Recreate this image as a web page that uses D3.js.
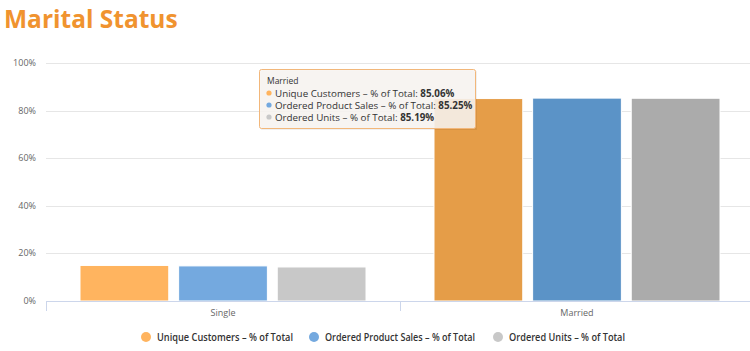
<!DOCTYPE html>
<html>
<head>
<meta charset="utf-8">
<script src="https://cdn.jsdelivr.net/npm/d3@7"></script>
<style>
  body { margin: 0; background: #fff; }
  #chart { width: 750px; height: 351px; }
  text { font-family: "Open Sans", "DejaVu Sans", sans-serif; }
</style>
</head>
<body>
<div id="chart"></div>
<script>
// data
const categories = ["Single", "Married"];
const seriesNames = ["Unique Customers - % of Total", "Ordered Product Sales - % of Total", "Ordered Units - % of Total"];
const uniqueCustomers = [14.94, 85.06];
const orderedSales = [14.75, 85.25];
const orderedUnits = [14.3, 85.19];
const yTicks = [0, 20, 40, 60, 80, 100];

const seriesValues = [uniqueCustomers, orderedSales, orderedUnits];
const baseColors = ["#FFB45F", "#74A9DF", "#C8C8C8"];
const hoverColors = ["#E59D48", "#5B93C7", "#ABABAB"];
const hoverIndex = 1;

const margin = {top: 63, right: -4, bottom: 50, left: 46};
const W = 750, H = 351;
const width = W - margin.left - margin.right;
const height = H - margin.top - margin.bottom;

const svg = d3.select("#chart").append("svg")
    .attr("width", W)
    .attr("height", H);

// title
svg.append("text")
    .attr("x", 4)
    .attr("y", 28)
    .attr("fill", "#F0932F")
    .attr("font-size", 24.5)
    .attr("font-weight", 700)
    .text("Marital Status");

const g = svg.append("g")
    .attr("transform", "translate(" + margin.left + "," + margin.top + ")");

// scales
const x = d3.scaleBand().domain(categories).range([0, width]);
const groupPad = 34;
const x1 = d3.scaleBand().domain(d3.range(seriesNames.length))
    .range([groupPad, x.bandwidth() - groupPad]).paddingInner(0.1);
const y = d3.scaleLinear().domain([0, 100]).range([height, 0]);

// grid
g.append("g").selectAll("line")
    .data(yTicks.slice(1))
    .join("line")
    .attr("x1", 0).attr("x2", width)
    .attr("y1", d => Math.round(y(d)) + 0.5).attr("y2", d => Math.round(y(d)) + 0.5)
    .attr("stroke", "#e6e6e6");

// y labels
g.append("g").selectAll("text")
    .data(yTicks)
    .join("text")
    .attr("x", -10)
    .attr("y", d => y(d) + 3)
    .attr("text-anchor", "end")
    .attr("font-size", 9)
    .attr("fill", "#666")
    .text(d => d + "%");

// bars
categories.forEach((c, ci) => {
    seriesValues.forEach((vals, si) => {
        g.append("rect")
            .attr("x", x(c) + x1(si))
            .attr("y", y(vals[ci]))
            .attr("width", x1.bandwidth())
            .attr("height", y(0) - y(vals[ci]))
            .attr("fill", ci === hoverIndex ? hoverColors[si] : baseColors[si])
            .attr("stroke", "#fff")
            .attr("stroke-width", 1);
    });
});

// x axis
g.append("line")
    .attr("x1", 0).attr("x2", width)
    .attr("y1", height + 0.5).attr("y2", height + 0.5)
    .attr("stroke", "#ccd6eb");
g.append("g").selectAll("line")
    .data([0, x.bandwidth(), width])
    .join("line")
    .attr("x1", d => Math.round(d) + 0.5).attr("x2", d => Math.round(d) + 0.5)
    .attr("y1", height).attr("y2", height + 10)
    .attr("stroke", "#ccd6eb");
g.append("g").selectAll("text")
    .data(categories)
    .join("text")
    .attr("x", d => x(d) + x.bandwidth() / 2)
    .attr("y", height + 15)
    .attr("text-anchor", "middle")
    .attr("font-size", 9)
    .attr("fill", "#666")
    .text(d => d);

// legend
const legendX = [146, 314, 498];
const legendLen = [136, 150, 116];
const legend = svg.append("g");
seriesNames.forEach((s, i) => {
    legend.append("circle")
        .attr("cx", legendX[i]).attr("cy", 337)
        .attr("r", 5)
        .attr("fill", baseColors[i]);
    legend.append("text")
        .attr("x", legendX[i] + 11)
        .attr("y", 341)
        .attr("font-size", 10)
        .attr("font-weight", 600)
        .attr("fill", "#333")
        .attr("textLength", legendLen[i])
        .attr("lengthAdjust", "spacingAndGlyphs")
        .text(s.replace(" - ", " – "));
});

// tooltip
const tip = svg.append("g").attr("transform", "translate(259,69)");
tip.append("rect")
    .attr("x", 2).attr("y", 2)
    .attr("width", 216).attr("height", 59)
    .attr("fill", "rgba(0,0,0,0.06)");
tip.append("rect")
    .attr("x", 0.5).attr("y", 0.5)
    .attr("width", 216).attr("height", 59)
    .attr("rx", 2)
    .attr("fill", "rgba(247,244,240,0.88)")
    .attr("stroke", "#F2B77A");
tip.append("text")
    .attr("x", 8).attr("y", 15)
    .attr("font-size", 8.5)
    .attr("fill", "#333")
    .text(categories[hoverIndex]);
seriesNames.forEach((s, i) => {
    const yy = 27.5 + i * 12;
    tip.append("circle")
        .attr("cx", 10).attr("cy", yy - 3.5)
        .attr("r", 2.6)
        .attr("fill", baseColors[i]);
    const t = tip.append("text")
        .attr("x", 16).attr("y", yy)
        .attr("font-size", 9.8)
        .attr("fill", "#333");
    t.append("tspan").text(s.replace(" - ", " – ") + ": ");
    t.append("tspan").attr("font-weight", 700)
        .text(seriesValues[i][hoverIndex].toFixed(2) + "%");
});
</script>
</body>
</html>
